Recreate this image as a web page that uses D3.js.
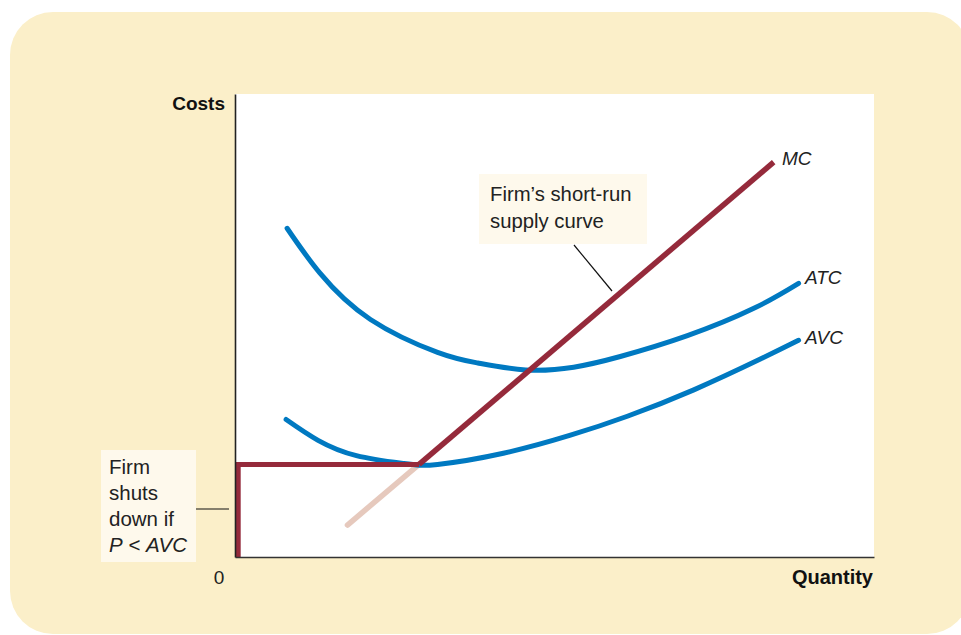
<!DOCTYPE html>
<html>
<head>
<meta charset="utf-8">
<script src="https://cdn.jsdelivr.net/npm/d3@7"></script>
<style>
  html, body { margin: 0; padding: 0; background: #ffffff; }
  svg { display: block; }
</style>
</head>
<body>
<svg id="chart" width="961" height="635"></svg>
<script>
// ---- Data (quantity 0..100, cost 0..100) ----
const atcPoints = [
  [8.15, 71.0], [13.3, 61.3], [21.2, 51.3], [31.7, 44.2], [38.0, 41.9],
  [45.5, 40.4], [53.0, 41.0], [60.3, 43.3], [70.8, 47.8], [81.2, 53.7],
  [88.2, 59.1]
];
const avcPoints = [
  [8.0, 29.7], [13.0, 25.2], [19.0, 21.9], [26.3, 20.2], [31.7, 20.0],
  [42.0, 22.4], [52.5, 26.3], [61.4, 30.4], [71.8, 36.1], [82.3, 42.8],
  [88.2, 46.8]
];
const mcLowerPoints = [[17.6, 6.9], [28.8, 20.0]];
const mcUpperPoints = [[28.8, 20.0], [84.3, 85.3]];
const shutdownPoints = [[0.5, 0], [0.5, 20.0], [28.8, 20.0]];
const curveLabels = [
  { text: "MC",  q: 85.6, c: 84.7 },
  { text: "ATC", q: 89.2, c: 59.0 },
  { text: "AVC", q: 89.2, c: 46.0 }
];
const axisTitles = { y: "Costs", x: "Quantity", origin: "0" };
const supplyNote = ["Firm\u2019s short-run", "supply curve"];
const shutdownNote = ["Firm", "shuts", "down if"];

// ---- Layout ----
const svg = d3.select("#chart");
const plot = { left: 235, right: 874, top: 94, bottom: 557 };
const FONT = "Liberation Sans, Arial, sans-serif";

const x = d3.scaleLinear().domain([0, 100]).range([plot.left, plot.right]);
const y = d3.scaleLinear().domain([0, 100]).range([plot.bottom, plot.top]);

// background panel
svg.append("rect")
  .attr("x", 10).attr("y", 12)
  .attr("width", 960).attr("height", 622)
  .attr("rx", 43).attr("ry", 43)
  .attr("fill", "#fbefc9");

// white plot area
svg.append("rect")
  .attr("x", plot.left).attr("y", plot.top)
  .attr("width", plot.right - plot.left).attr("height", plot.bottom - plot.top)
  .attr("fill", "#ffffff");

const line = d3.line().x(d => x(d[0])).y(d => y(d[1]));
const smooth = d3.line().x(d => x(d[0])).y(d => y(d[1])).curve(d3.curveNatural);

// MC lower part (faded)
svg.append("path").datum(mcLowerPoints)
  .attr("d", line).attr("fill", "none")
  .attr("stroke", "#e6c9bd").attr("stroke-width", 5.5).attr("stroke-linecap", "round");

// ATC and AVC
[atcPoints, avcPoints].forEach(pts => {
  svg.append("path").datum(pts)
    .attr("d", smooth).attr("fill", "none")
    .attr("stroke", "#0079c1").attr("stroke-width", 5).attr("stroke-linecap", "round");
});

// shutdown segment
svg.append("path").datum(shutdownPoints)
  .attr("d", line).attr("fill", "none")
  .attr("stroke", "#952a3b").attr("stroke-width", 5).attr("stroke-linejoin", "miter");

// MC upper
svg.append("path").datum(mcUpperPoints)
  .attr("d", line).attr("fill", "none")
  .attr("stroke", "#952a3b").attr("stroke-width", 5.5).attr("stroke-linecap", "butt");

// axes
const yAxis = d3.axisLeft(y).tickValues([]).tickSizeOuter(0);
const xAxis = d3.axisBottom(x).tickValues([]).tickSizeOuter(0);
svg.append("g").attr("transform", `translate(${plot.left},0)`).call(yAxis)
  .select(".domain").attr("stroke", "#222").attr("stroke-width", 1.6);
svg.append("g").attr("transform", `translate(0,${plot.bottom})`).call(xAxis)
  .select(".domain").attr("stroke", "#333").attr("stroke-width", 1.6);

// axis titles
svg.append("text").text(axisTitles.y)
  .attr("x", 225).attr("y", 110).attr("text-anchor", "end")
  .attr("font-family", FONT).attr("font-weight", "bold")
  .attr("font-size", 19).attr("fill", "#111");
svg.append("text").text(axisTitles.x)
  .attr("x", plot.right - 1).attr("y", 584).attr("text-anchor", "end")
  .attr("font-family", FONT).attr("font-weight", "bold")
  .attr("font-size", 20).attr("fill", "#111");
svg.append("text").text(axisTitles.origin)
  .attr("x", 219).attr("y", 584).attr("text-anchor", "middle")
  .attr("font-family", FONT)
  .attr("font-size", 19).attr("fill", "#222");

// curve labels
svg.selectAll("text.curve-label").data(curveLabels).enter().append("text")
  .attr("class", "curve-label")
  .attr("x", d => x(d.q)).attr("y", d => y(d.c))
  .attr("font-family", FONT)
  .attr("font-style", "italic").attr("font-size", 19).attr("fill", "#222")
  .text(d => d.text);

// supply note
svg.append("line").attr("x1", 574).attr("y1", 245).attr("x2", 612).attr("y2", 291)
  .attr("stroke", "#111").attr("stroke-width", 1.2);
svg.append("rect").attr("x", 479).attr("y", 174).attr("width", 168).attr("height", 70)
  .attr("fill", "#fef9ec");
svg.append("text")
  .attr("font-family", FONT).attr("font-size", 20.3).attr("fill", "#222")
  .selectAll("tspan").data(supplyNote).enter().append("tspan")
  .attr("x", 490).attr("y", (d, i) => 201 + i * 27).text(d => d);

// shutdown note
svg.append("line").attr("x1", 196).attr("y1", 509).attr("x2", 229).attr("y2", 509)
  .attr("stroke", "#111").attr("stroke-width", 1.2);
svg.append("rect").attr("x", 101).attr("y", 450).attr("width", 95).attr("height", 112)
  .attr("fill", "#fef9ec");
const sn = svg.append("text")
  .attr("font-family", FONT).attr("font-size", 20.5).attr("fill", "#222");
sn.selectAll("tspan").data(shutdownNote).enter().append("tspan")
  .attr("x", 109).attr("y", (d, i) => 474 + i * 26).text(d => d);
const last = svg.append("text")
  .attr("x", 109).attr("y", 552)
  .attr("font-family", FONT).attr("font-size", 20.5).attr("fill", "#222");
last.append("tspan").attr("font-style", "italic").text("P");
last.append("tspan").text(" < ");
last.append("tspan").attr("font-style", "italic").text("AVC");
</script>
</body>
</html>
